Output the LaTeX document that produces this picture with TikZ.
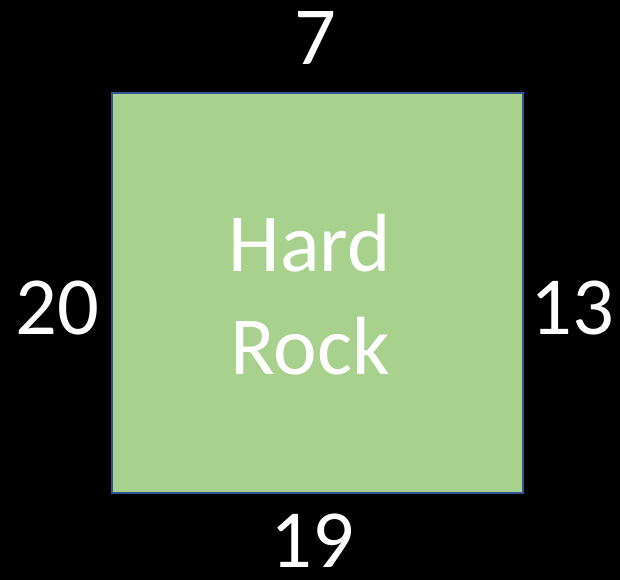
\documentclass[tikz,border=0pt]{standalone}
\usepackage{fontspec}
\setmainfont{Carlito}
\definecolor{rockgreen}{HTML}{A9D18E}
\definecolor{edgeblue}{HTML}{2F5597}
\tikzset{lbl/.style={text=white,font=\fontsize{47}{58}\selectfont,inner sep=0pt,anchor=base}}

\begin{document}
\begin{tikzpicture}[x=0.02cm,y=0.02cm]

\fill[black] (0,0) rectangle (620,580);
\useasboundingbox (0,0) rectangle (620,580);

\draw[edgeblue,line width=1.6pt,fill=rockgreen] (112,87) rectangle (523,487);

\node[lbl] (hard) at (310,308) {Hard};
\node[lbl] (rock) at (310,205) {Rock};

\node[lbl] (top) at (315,515) {7};
\node[lbl] (left) at (57,245) {20};
\node[lbl] (right) at (572,245) {13};
\node[lbl] (bottom) at (312,12) {19};

\end{tikzpicture}
\end{document}
